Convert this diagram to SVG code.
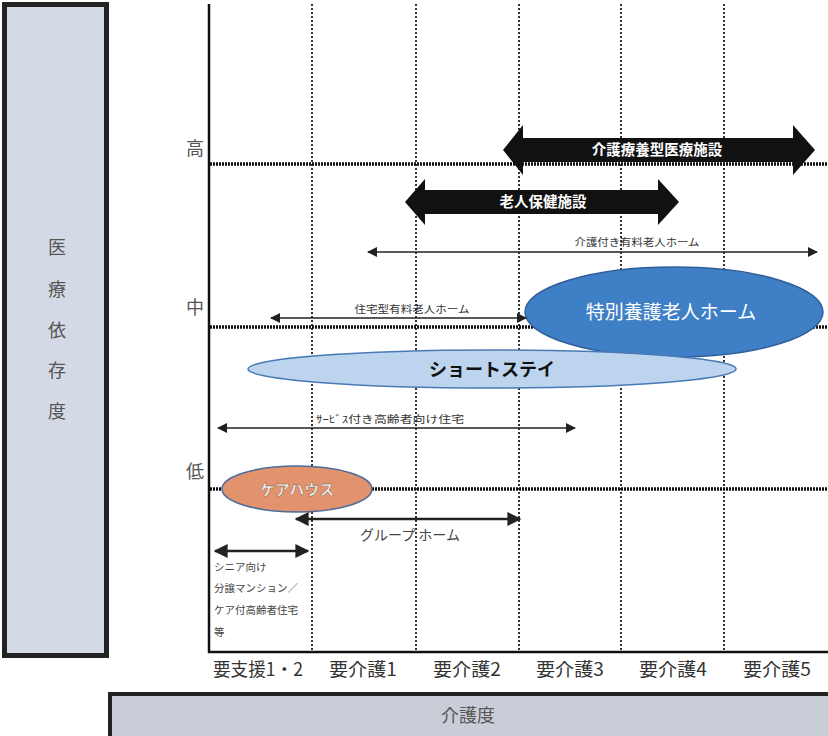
<svg xmlns="http://www.w3.org/2000/svg" width="828" height="736" viewBox="0 0 828 736">
<style>
  text { font-family: "Noto Sans CJK JP", "Noto Sans", sans-serif; }
  .vgrid { stroke: #333; stroke-width: 2; stroke-dasharray: 2 2; fill: none; }
  .hgrid { stroke: #111; stroke-width: 3.5; stroke-dasharray: 2 1; fill: none; }
  .axis { stroke: #111; stroke-width: 2.5; fill: none; }
  .lvl { font-size: 18px; fill: #555; text-anchor: middle; }
  .xl { font-size: 18px; fill: #333; text-anchor: middle; }
  .ttl { font-size: 18px; fill: #555; text-anchor: middle; }
  .big { fill: #111; }
  .bigtxt { font-size: 14.5px; fill: #fff; text-anchor: middle; font-weight: bold; }
  .thin { stroke: #222; stroke-width: 1.5; fill: none; }
  .thick { stroke: #222; stroke-width: 2.5; fill: none; }
  .small { font-size: 10px; fill: #333; text-anchor: middle; }
  .note { font-size: 10.5px; fill: #444; }
</style>
<defs>
  <marker id="ah" viewBox="0 0 10 10" refX="9" refY="5" markerWidth="10" markerHeight="10" markerUnits="userSpaceOnUse" orient="auto-start-reverse">
    <path d="M0,0 L10,5 L0,10 z" fill="#222"/>
  </marker>
  <marker id="ahb" viewBox="0 0 10 10" refX="9" refY="5" markerWidth="14" markerHeight="14" markerUnits="userSpaceOnUse" orient="auto-start-reverse">
    <path d="M0,0 L10,5 L0,10 z" fill="#222"/>
  </marker>
</defs>

<rect id="background" x="0" y="0" width="828" height="736" fill="#ffffff"/>

<g id="y-title">
  <rect x="4.5" y="4.5" width="102" height="651" fill="#d3d9e5" stroke="#222" stroke-width="5"/>
  <text class="ttl" x="57" y="254">医</text>
  <text class="ttl" x="57" y="296">療</text>
  <text class="ttl" x="57" y="337">依</text>
  <text class="ttl" x="57" y="377">存</text>
  <text class="ttl" x="57" y="418">度</text>
</g>

<g id="x-title">
  <rect x="110" y="694" width="722" height="44" fill="#c9cdd8" stroke="#222" stroke-width="4"/>
  <text class="ttl" x="468" y="722">介護度</text>
</g>

<g id="grid">
  <line class="vgrid" x1="312" y1="4" x2="312" y2="651"/>
  <line class="vgrid" x1="416" y1="4" x2="416" y2="651"/>
  <line class="vgrid" x1="519" y1="4" x2="519" y2="651"/>
  <line class="vgrid" x1="621" y1="4" x2="621" y2="651"/>
  <line class="vgrid" x1="724" y1="4" x2="724" y2="651"/>
  <line class="hgrid" x1="210" y1="164" x2="828" y2="164"/>
  <line class="hgrid" x1="210" y1="327" x2="828" y2="327"/>
  <line class="hgrid" x1="210" y1="489" x2="828" y2="489"/>
  <line class="axis" x1="209" y1="4" x2="209" y2="653"/>
  <line class="axis" x1="208" y1="652" x2="828" y2="652"/>
</g>

<g id="y-levels">
  <text class="lvl" x="195" y="155">高</text>
  <text class="lvl" x="195" y="314">中</text>
  <text class="lvl" x="195" y="478">低</text>
</g>

<g id="x-levels">
  <text class="xl" x="258" y="676" textLength="90" lengthAdjust="spacingAndGlyphs">要支援1・2</text>
  <text class="xl" x="363" y="676" textLength="68" lengthAdjust="spacingAndGlyphs">要介護1</text>
  <text class="xl" x="467" y="676" textLength="68" lengthAdjust="spacingAndGlyphs">要介護2</text>
  <text class="xl" x="570" y="676" textLength="68" lengthAdjust="spacingAndGlyphs">要介護3</text>
  <text class="xl" x="673" y="676" textLength="68" lengthAdjust="spacingAndGlyphs">要介護4</text>
  <text class="xl" x="777" y="676" textLength="68" lengthAdjust="spacingAndGlyphs">要介護5</text>
</g>

<g id="node-kaigo-ryoyo">
  <polygon class="big" points="503,150 523,125 523,138 793,138 793,125 815,150 793,175 793,162 523,162 523,175"/>
  <text class="bigtxt" x="657" y="155">介護療養型医療施設</text>
</g>

<g id="node-roken">
  <polygon class="big" points="405,202 425,179 425,190 658,190 658,179 679,202 658,225 658,214 425,214 425,225"/>
  <text class="bigtxt" x="543" y="207">老人保健施設</text>
</g>

<g id="node-tokuyo">
  <ellipse cx="674" cy="312" rx="149" ry="45" fill="#3f7fc6" stroke="#2f5f9a" stroke-width="1.5"/>
  <text x="671" y="319" font-size="19" fill="#fff" text-anchor="middle">特別養護老人ホーム</text>
</g>

<g id="node-shortstay">
  <ellipse cx="492" cy="369" rx="244" ry="19" fill="#bcd4ee" stroke="#4a7ab6" stroke-width="1.5"/>
  <text x="492" y="376" font-size="18" font-weight="bold" fill="#111" text-anchor="middle">ショートステイ</text>
</g>

<g id="node-carehouse">
  <ellipse cx="297" cy="489" rx="75" ry="23" fill="#e2926c" stroke="#4d6b9c" stroke-width="1.5"/>
  <text x="297" y="495" font-size="15" font-weight="bold" fill="#fafafa" stroke="#6b4a3a" stroke-width="0.4" text-anchor="middle">ケアハウス</text>
</g>

<g id="connectors">
  <line class="thin" x1="368" y1="252" x2="817" y2="252" marker-start="url(#ah)" marker-end="url(#ah)"/>
  <line class="thin" x1="271" y1="318" x2="526" y2="318" marker-start="url(#ah)" marker-end="url(#ah)"/>
  <line class="thin" x1="218" y1="428" x2="575" y2="428" marker-start="url(#ah)" marker-end="url(#ah)"/>
  <line class="thick" x1="296" y1="519" x2="520" y2="519" marker-start="url(#ahb)" marker-end="url(#ahb)"/>
  <line class="thick" x1="215" y1="551" x2="308" y2="551" marker-start="url(#ahb)" marker-end="url(#ahb)"/>
</g>

<g id="label-kaigotsuki">
  <text class="small" x="637" y="246" textLength="125" lengthAdjust="spacingAndGlyphs">介護付き有料老人ホーム</text>
</g>
<g id="label-jutakugata">
  <text class="small" x="412" y="313" textLength="115" lengthAdjust="spacingAndGlyphs">住宅型有料老人ホーム</text>
</g>
<g id="label-sakoju">
  <text class="small" x="390" y="423" textLength="148" lengthAdjust="spacingAndGlyphs">ｻｰﾋﾞｽ付き高齢者向け住宅</text>
</g>
<g id="label-grouphome">
  <text x="410" y="540" font-size="14" fill="#444" text-anchor="middle">グループ ホーム</text>
</g>
<g id="label-senior">
  <text class="note" x="214" y="571">シニア向け</text>
  <text class="note" x="214" y="592">分譲マンション／</text>
  <text class="note" x="214" y="614">ケア付高齢者住宅</text>
  <text class="note" x="214" y="636">等</text>
</g>
</svg>
